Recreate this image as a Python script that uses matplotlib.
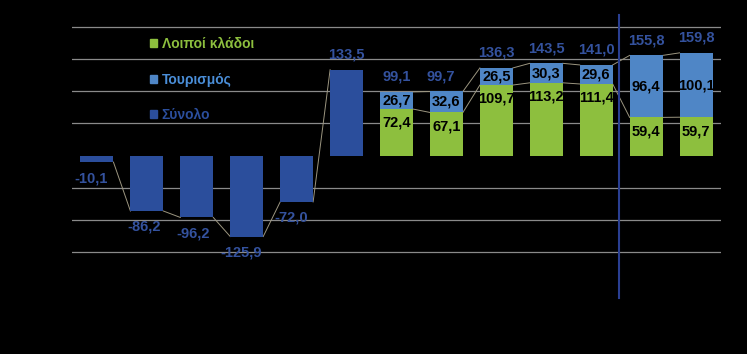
import numpy as np
import matplotlib.pyplot as plt

plt.rcParams['font.family'] = ['Liberation Sans', 'DejaVu Sans']

# values (13 periods, no axis labels shown)
total = [-10.1, -86.2, -96.2, -125.9, -72.0, 133.5, 99.1, 99.7, 136.3, 143.5, 141.0, 155.8, 159.8]
tourism = [np.nan] * 6 + [26.7, 32.6, 26.5, 30.3, 29.6, 96.4, 100.1]
other = [np.nan] * 6 + [72.4, 67.1, 109.7, 113.2, 111.4, 59.4, 59.7]
legend_labels = ['Λοιποί κλάδοι', 'Τουρισμός', 'Σύνολο']

c_green = '#8dbf3e'
c_light = '#4f86c6'
c_dark = '#2b4e9c'
c_label = '#34529e'
c_conn = '#9c9680'

# small manual shifts of the total labels (points)
total_dx = [-4, -2, -3, -4, -4, 0, 0, -4, 0, 0, 0, 0, 0]

fig = plt.figure(figsize=(7.47, 3.54), dpi=100, facecolor='black')
ax = fig.add_axes([72 / 747, 0, 649 / 747, 1])
ax.set_facecolor('black')
ax.axis('off')

n = len(total)
x = np.arange(n)
w = 0.66
ax.set_xlim(-0.5, n - 0.5)
ax.set_ylim(-308.6, 242)

for g in [-150, -100, -50, 50, 100, 150, 200]:
    ax.axhline(g, color='#8a8a8a', lw=0.9, zorder=0)

tot = np.array(total)
tour = np.array(tourism)
oth = np.array(other)
only_total = np.isnan(oth)

ax.bar(x[~only_total], oth[~only_total], width=w, color=c_green, zorder=2)
ax.bar(x[~only_total], tour[~only_total], bottom=oth[~only_total], width=w, color=c_light, zorder=2)
ax.bar(x[only_total], tot[only_total], width=w, color=c_dark, zorder=2)

# series lines between neighbouring bars
for i in range(n - 1):
    if only_total[i] and only_total[i + 1]:
        ax.plot([i + w / 2, i + 1 - w / 2], [tot[i], tot[i + 1]], color=c_conn, lw=0.7, zorder=1)
    elif not only_total[i] and not only_total[i + 1]:
        ax.plot([i + w / 2, i + 1 - w / 2], [oth[i], oth[i + 1]], color=c_conn, lw=0.7, zorder=1)
        ax.plot([i + w / 2, i + 1 - w / 2], [tot[i], tot[i + 1]], color=c_conn, lw=0.7, zorder=1)

def fmt(v):
    return f'{v:.1f}'.replace('.', ',')

fs = 10.5
for i in range(n):
    dy = 11 if tot[i] > 0 else -11.5
    ax.annotate(fmt(tot[i]), (x[i], tot[i]), xytext=(total_dx[i], dy), textcoords='offset points',
                ha='center', va='center', color=c_label, fontsize=fs, fontweight='bold', zorder=4)
    if not only_total[i]:
        ax.annotate(fmt(oth[i]), (x[i], oth[i]), xytext=(0, -10), textcoords='offset points',
                    ha='center', va='center', color='black', fontsize=fs, fontweight='bold', zorder=4)
        ax.text(x[i], oth[i] + tour[i] / 2, fmt(tour[i]), ha='center', va='center',
                color='black', fontsize=fs, fontweight='bold', zorder=4)

# separator between historical and projected values
ax.axvline(10.45, ymin=1 - 298 / 354, ymax=1 - 15 / 354, color='#2a3f92', lw=1.5, zorder=3)

handles = [plt.Rectangle((0, 0), 1, 1, color=c) for c in [c_green, c_light, c_dark]]
leg = fig.legend(handles, legend_labels, loc='upper left', bbox_to_anchor=(150 / 747, 1 - 37 / 354),
                 frameon=False, handlelength=0.5, handleheight=0.5, handletextpad=0.35,
                 labelspacing=1.55, borderpad=0, borderaxespad=0,
                 prop={'size': 10, 'weight': 'bold'})
for t, c in zip(leg.get_texts(), [c_green, '#4a8ed8', c_dark]):
    t.set_color(c)

fig.savefig('out.png', dpi=100, facecolor='black')
